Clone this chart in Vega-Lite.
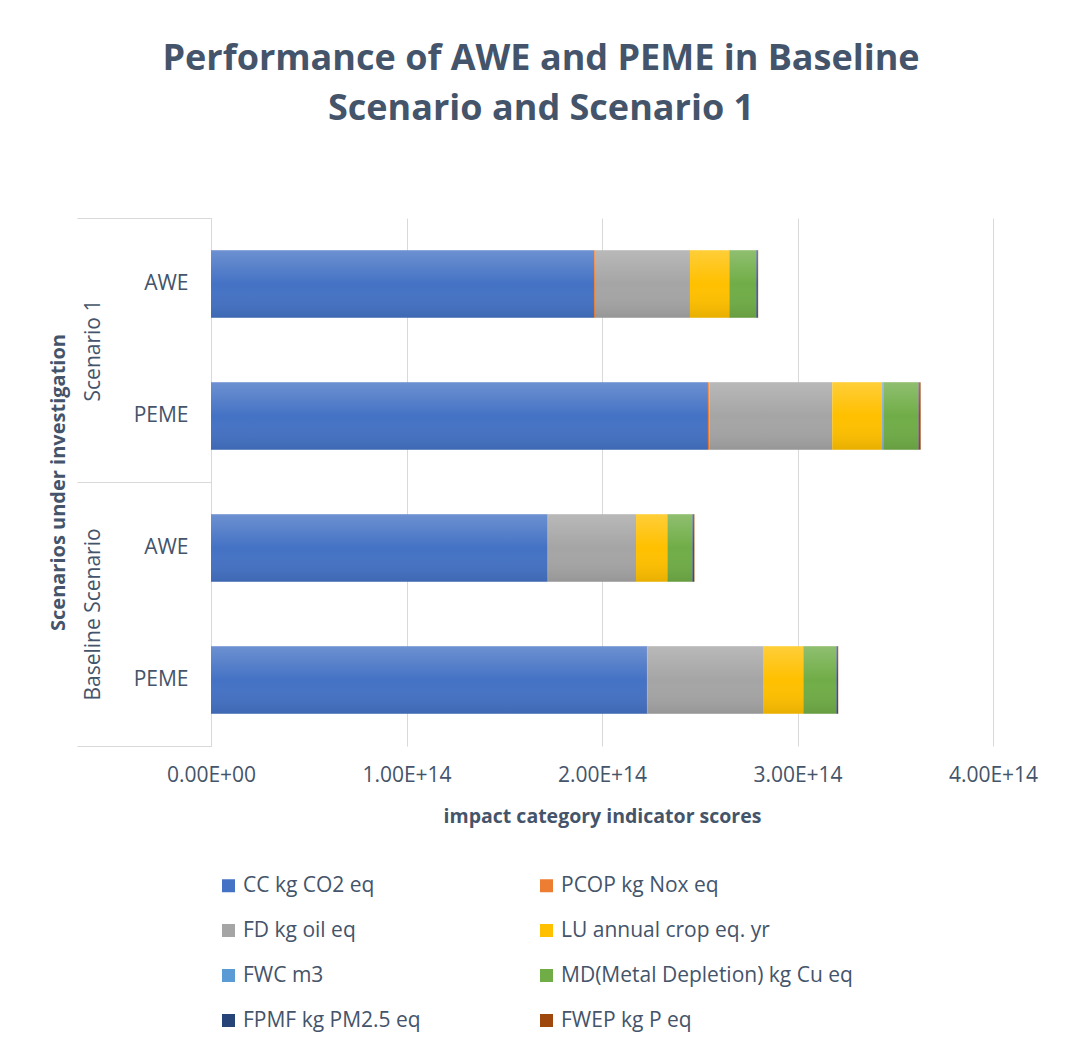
{
  "$schema": "https://vega.github.io/schema/vega-lite/v6.json",
  "width": 782,
  "height": 528,
  "autosize": {"type": "none"},
  "padding": {"left": 211, "top": 218, "right": 72, "bottom": 302},
  "background": "white",
  "title": {
    "text": ["Performance of AWE and PEME in Baseline", "Scenario and Scenario 1"],
    "font": "Open Sans",
    "fontSize": 36,
    "fontWeight": "bold",
    "color": "#44546A",
    "lineHeight": 50,
    "anchor": "middle",
    "frame": "bounds",
    "dx": -2,
    "offset": 90
  },
  "config": {
    "font": "Open Sans",
    "view": {"stroke": null},
    "axis": {"labelColor": "#44546A", "titleColor": "#44546A", "labelFontSize": 21, "titleFontSize": 20, "labelFont": "Open Sans", "titleFont": "Open Sans"},
    "axisX": {"labelFontSize": 21, "titleFontSize": 19.5}
  },
  "data": {
    "values": [
      {"bar": "Scenario 1 | AWE", "scenario": "Scenario 1", "tech": "AWE", "category": "CC kg CO2 eq", "catOrder": 1, "value": 1.959e14},
      {"bar": "Scenario 1 | AWE", "scenario": "Scenario 1", "tech": "AWE", "category": "PCOP kg Nox eq", "catOrder": 2, "value": 5e11},
      {"bar": "Scenario 1 | AWE", "scenario": "Scenario 1", "tech": "AWE", "category": "FD kg oil eq", "catOrder": 3, "value": 4.86e13},
      {"bar": "Scenario 1 | AWE", "scenario": "Scenario 1", "tech": "AWE", "category": "LU annual crop eq. yr", "catOrder": 4, "value": 2.0e13},
      {"bar": "Scenario 1 | AWE", "scenario": "Scenario 1", "tech": "AWE", "category": "FWC m3", "catOrder": 5, "value": 1.5e11},
      {"bar": "Scenario 1 | AWE", "scenario": "Scenario 1", "tech": "AWE", "category": "MD(Metal Depletion) kg Cu eq", "catOrder": 6, "value": 1.38e13},
      {"bar": "Scenario 1 | AWE", "scenario": "Scenario 1", "tech": "AWE", "category": "FPMF kg PM2.5 eq", "catOrder": 7, "value": 7.7e11},
      {"bar": "Scenario 1 | AWE", "scenario": "Scenario 1", "tech": "AWE", "category": "FWEP kg P eq", "catOrder": 8, "value": 1.5e11},
      {"bar": "Scenario 1 | PEME", "scenario": "Scenario 1", "tech": "PEME", "category": "CC kg CO2 eq", "catOrder": 1, "value": 2.542e14},
      {"bar": "Scenario 1 | PEME", "scenario": "Scenario 1", "tech": "PEME", "category": "PCOP kg Nox eq", "catOrder": 2, "value": 6.6e11},
      {"bar": "Scenario 1 | PEME", "scenario": "Scenario 1", "tech": "PEME", "category": "FD kg oil eq", "catOrder": 3, "value": 6.29e13},
      {"bar": "Scenario 1 | PEME", "scenario": "Scenario 1", "tech": "PEME", "category": "LU annual crop eq. yr", "catOrder": 4, "value": 2.56e13},
      {"bar": "Scenario 1 | PEME", "scenario": "Scenario 1", "tech": "PEME", "category": "FWC m3", "catOrder": 5, "value": 7.7e11},
      {"bar": "Scenario 1 | PEME", "scenario": "Scenario 1", "tech": "PEME", "category": "MD(Metal Depletion) kg Cu eq", "catOrder": 6, "value": 1.76e13},
      {"bar": "Scenario 1 | PEME", "scenario": "Scenario 1", "tech": "PEME", "category": "FPMF kg PM2.5 eq", "catOrder": 7, "value": 2.6e11},
      {"bar": "Scenario 1 | PEME", "scenario": "Scenario 1", "tech": "PEME", "category": "FWEP kg P eq", "catOrder": 8, "value": 1.0e12},
      {"bar": "Baseline Scenario | AWE", "scenario": "Baseline Scenario", "tech": "AWE", "category": "CC kg CO2 eq", "catOrder": 1, "value": 1.719e14},
      {"bar": "Baseline Scenario | AWE", "scenario": "Baseline Scenario", "tech": "AWE", "category": "PCOP kg Nox eq", "catOrder": 2, "value": 5e11},
      {"bar": "Baseline Scenario | AWE", "scenario": "Baseline Scenario", "tech": "AWE", "category": "FD kg oil eq", "catOrder": 3, "value": 4.5e13},
      {"bar": "Baseline Scenario | AWE", "scenario": "Baseline Scenario", "tech": "AWE", "category": "LU annual crop eq. yr", "catOrder": 4, "value": 1.59e13},
      {"bar": "Baseline Scenario | AWE", "scenario": "Baseline Scenario", "tech": "AWE", "category": "FWC m3", "catOrder": 5, "value": 1.5e11},
      {"bar": "Baseline Scenario | AWE", "scenario": "Baseline Scenario", "tech": "AWE", "category": "MD(Metal Depletion) kg Cu eq", "catOrder": 6, "value": 1.28e13},
      {"bar": "Baseline Scenario | AWE", "scenario": "Baseline Scenario", "tech": "AWE", "category": "FPMF kg PM2.5 eq", "catOrder": 7, "value": 7.7e11},
      {"bar": "Baseline Scenario | AWE", "scenario": "Baseline Scenario", "tech": "AWE", "category": "FWEP kg P eq", "catOrder": 8, "value": 2.6e11},
      {"bar": "Baseline Scenario | PEME", "scenario": "Baseline Scenario", "tech": "PEME", "category": "CC kg CO2 eq", "catOrder": 1, "value": 2.23e14},
      {"bar": "Baseline Scenario | PEME", "scenario": "Baseline Scenario", "tech": "PEME", "category": "PCOP kg Nox eq", "catOrder": 2, "value": 3.6e11},
      {"bar": "Baseline Scenario | PEME", "scenario": "Baseline Scenario", "tech": "PEME", "category": "FD kg oil eq", "catOrder": 3, "value": 5.9e13},
      {"bar": "Baseline Scenario | PEME", "scenario": "Baseline Scenario", "tech": "PEME", "category": "LU annual crop eq. yr", "catOrder": 4, "value": 2.05e13},
      {"bar": "Baseline Scenario | PEME", "scenario": "Baseline Scenario", "tech": "PEME", "category": "FWC m3", "catOrder": 5, "value": 1.5e11},
      {"bar": "Baseline Scenario | PEME", "scenario": "Baseline Scenario", "tech": "PEME", "category": "MD(Metal Depletion) kg Cu eq", "catOrder": 6, "value": 1.69e13},
      {"bar": "Baseline Scenario | PEME", "scenario": "Baseline Scenario", "tech": "PEME", "category": "FPMF kg PM2.5 eq", "catOrder": 7, "value": 7.7e11},
      {"bar": "Baseline Scenario | PEME", "scenario": "Baseline Scenario", "tech": "PEME", "category": "FWEP kg P eq", "catOrder": 8, "value": 1.5e11}
    ]
  },
  "layer": [
    {
      "encoding": {
        "y": {
          "field": "bar",
          "type": "nominal",
          "scale": {
            "domain": ["Scenario 1 | AWE", "Scenario 1 | PEME", "Baseline Scenario | AWE", "Baseline Scenario | PEME"],
            "paddingInner": 0.49,
            "paddingOuter": 0.245
          },
          "axis": {
            "orient": "left",
            "title": null,
            "ticks": false,
            "domain": true,
            "domainColor": "#d9d9d9",
            "domainWidth": 1,
            "labelPadding": 23,
            "labelExpr": "split(datum.label, ' | ')[1]"
          }
        },
        "x": {
          "field": "value",
          "type": "quantitative",
          "stack": "zero",
          "scale": {"domain": [0, 4e14], "nice": false},
          "axis": {
            "title": "impact category indicator scores",
            "titleFontWeight": "bold",
            "titlePadding": 22,
            "values": [0, 1e14, 2e14, 3e14, 4e14],
            "labelExpr": "datum.value == 0 ? '0.00E+00' : upper(format(datum.value, '.2e'))",
            "labelFlush": false,
            "labelOverlap": false,
            "labelPadding": 18,
            "domain": false,
            "ticks": false,
            "grid": true,
            "gridColor": "#d9d9d9",
            "gridWidth": 1
          }
        },
        "order": {"field": "catOrder", "type": "quantitative"}
      },
      "layer": [
        {
          "mark": {"type": "bar"},
          "encoding": {
            "color": {
              "field": "category",
              "type": "nominal",
              "scale": {
                "domain": ["CC kg CO2 eq", "PCOP kg Nox eq", "FD kg oil eq", "LU annual crop eq. yr", "FWC m3", "MD(Metal Depletion) kg Cu eq", "FPMF kg PM2.5 eq", "FWEP kg P eq"],
                "range": ["#4472C4", "#ED7D31", "#A5A5A5", "#FFC000", "#5B9BD5", "#70AD47", "#264478", "#9E480E"]
              },
              "legend": {
                "title": null,
                "orient": "none",
                "legendX": 7,
                "legendY": 657,
                "columns": 2,
                "direction": "horizontal",
                "symbolType": "square",
                "symbolSize": 169,
                "symbolStrokeWidth": 0,
                "labelFontSize": 21,
                "labelFont": "Open Sans",
                "labelColor": "#44546A",
                "labelOffset": 4,
                "labelLimit": 400,
                "columnPadding": 115,
                "rowPadding": 23,
                "padding": 0
              }
            }
          }
        },
        {
          "mark": {
            "type": "bar",
            "color": {
              "gradient": "linear",
              "x1": 0, "y1": 0, "x2": 0, "y2": 1,
              "stops": [
                {"offset": 0, "color": "rgba(255,255,255,0.22)"},
                {"offset": 0.5, "color": "rgba(255,255,255,0)"},
                {"offset": 1, "color": "rgba(0,0,0,0.09)"}
              ]
            }
          },
          "encoding": {
            "detail": {"field": "category", "type": "nominal"}
          }
        }
      ]
    },
    {
      "mark": {"type": "tick", "opacity": 0},
      "encoding": {
        "y": {
          "field": "scenario",
          "type": "nominal",
          "scale": {"domain": ["Scenario 1", "Baseline Scenario"], "paddingInner": 0, "paddingOuter": 0},
          "axis": {
            "orient": "left",
            "title": "Scenarios under investigation",
            "titleFontWeight": "bold",
            "titlePadding": 8,
            "tickBand": "extent",
            "tickSize": 134,
            "tickColor": "#d9d9d9",
            "domain": false,
            "labelAngle": 270,
            "labelPadding": -26
          }
        },
        "x": {
          "field": "value",
          "type": "quantitative",
          "scale": {"domain": [0, 4e14], "nice": false},
          "axis": {
            "title": "impact category indicator scores",
            "titleFontWeight": "bold",
            "titlePadding": 22,
            "values": [0, 1e14, 2e14, 3e14, 4e14],
            "labelExpr": "datum.value == 0 ? '0.00E+00' : upper(format(datum.value, '.2e'))",
            "labelFlush": false,
            "labelOverlap": false,
            "labelPadding": 18,
            "domain": false,
            "ticks": false,
            "grid": true,
            "gridColor": "#d9d9d9",
            "gridWidth": 1
          }
        }
      }
    }
  ],
  "resolve": {"scale": {"y": "independent"}, "axis": {"y": "independent"}}
}
